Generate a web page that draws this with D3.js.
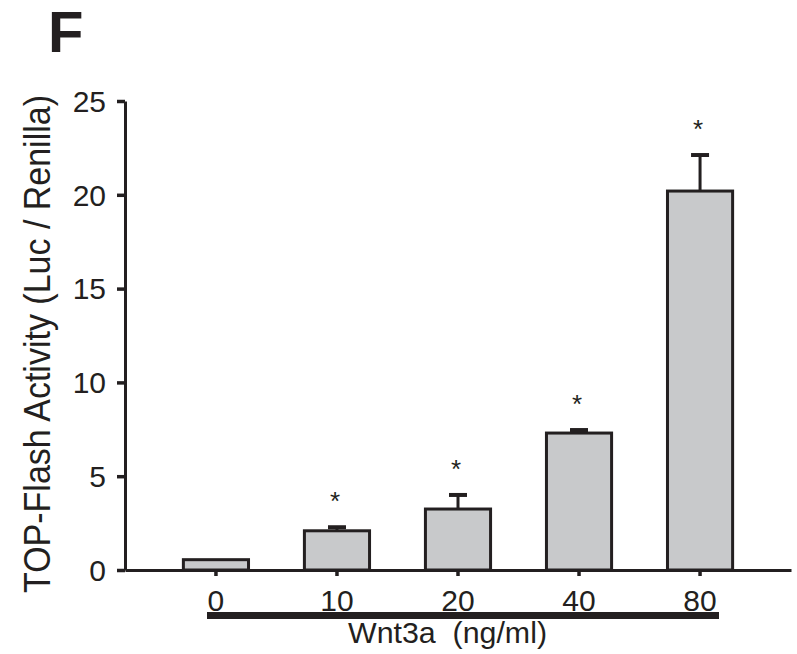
<!DOCTYPE html>
<html>
<head>
<meta charset="utf-8">
<script src="https://cdn.jsdelivr.net/npm/d3@7"></script>
<style>
  body { margin: 0; background: #fff; }
  svg { display: block; font-family: Arial, "Liberation Sans", sans-serif; }
</style>
</head>
<body>
<svg class="chart" width="797" height="654"></svg>
<script>
const doses = ['0', '10', '20', '40', '80'];
const means = [0.55, 2.09, 3.25, 7.30, 20.2];
const errors = [0, 0.19, 0.75, 0.16, 1.92];
const significant = [false, true, true, true, true];
const yTicks = [0, 5, 10, 15, 20, 25];

const ink = '#231f20';
const barFill = '#c8c9cb';

const startApp = () => {
  const svg = d3.select('.chart');

  const xScale = d3.scaleBand()
    .domain(doses)
    .range([125, 791])
    .paddingInner(0.437)
    .paddingOuter(0.47);
  const yScale = d3.scaleLinear().domain([0, 25]).range([570, 101]);

  const rows = doses.map((dose, i) => ({
    dose, mean: means[i], err: errors[i], star: significant[i],
  }));

  // bars
  svg.append('g').selectAll('rect')
    .data(rows)
    .enter()
    .append('rect')
    .attr('x', d => xScale(d.dose) + 1.5)
    .attr('width', xScale.bandwidth() - 3)
    .attr('y', d => yScale(d.mean))
    .attr('height', d => yScale(0) - yScale(d.mean))
    .attr('fill', barFill)
    .attr('stroke', ink)
    .attr('stroke-width', 3);

  // error bars (upper only)
  const errs = svg.append('g').selectAll('g')
    .data(rows.filter(d => d.err > 0))
    .enter()
    .append('g');
  const mid = d => xScale(d.dose) + xScale.bandwidth() / 2;
  errs.append('line')
    .attr('x1', mid).attr('x2', mid)
    .attr('y1', d => yScale(d.mean))
    .attr('y2', d => yScale(d.mean + d.err))
    .attr('stroke', ink)
    .attr('stroke-width', 3);
  errs.append('line')
    .attr('x1', d => mid(d) - 9).attr('x2', d => mid(d) + 9)
    .attr('y1', d => yScale(d.mean + d.err))
    .attr('y2', d => yScale(d.mean + d.err))
    .attr('stroke', ink)
    .attr('stroke-width', 4);

  // asterisks
  svg.append('g').selectAll('text')
    .data(rows.filter(d => d.star))
    .enter()
    .append('text')
    .attr('x', d => mid(d) - 2)
    .attr('y', d => yScale(d.mean + d.err) - 31 + 14)
    .attr('text-anchor', 'middle')
    .attr('font-size', 26)
    .attr('fill', ink)
    .text('*');

  // axes
  const xAxis = d3.axisBottom(xScale).tickSize(6).tickSizeOuter(0);
  const yAxis = d3.axisLeft(yScale).tickValues(yTicks).tickSize(8).tickSizeOuter(0);

  const gx = svg.append('g')
    .attr('transform', `translate(0, ${yScale(0)})`)
    .call(xAxis);
  gx.select('.domain').attr('stroke', ink).attr('stroke-width', 3);
  gx.selectAll('.tick line').attr('stroke', ink).attr('stroke-width', 3.5);
  gx.selectAll('.tick text')
    .attr('y', 41)
    .attr('dy', null)
    .attr('font-size', 30)
    .attr('font-family', null)
    .attr('fill', ink);

  const gy = svg.append('g')
    .attr('transform', 'translate(125, 0)')
    .call(yAxis);
  gy.select('.domain').attr('stroke', ink).attr('stroke-width', 3);
  gy.selectAll('.tick line').attr('stroke', ink).attr('stroke-width', 3.5);
  gy.selectAll('.tick text')
    .attr('x', -19)
    .attr('dy', '0.34em')
    .attr('font-size', 30)
    .attr('font-family', null)
    .attr('fill', ink);
  svg.selectAll('.tick, .domain').attr('font-family', null);
  gx.attr('font-family', null).attr('font-size', null);
  gy.attr('font-family', null).attr('font-size', null);

  // dose bar under the tick labels
  svg.append('line')
    .attr('x1', 207).attr('x2', 719)
    .attr('y1', 615.5).attr('y2', 615.5)
    .attr('stroke', ink)
    .attr('stroke-width', 7);

  svg.append('text')
    .attr('x', 447.5)
    .attr('y', 643)
    .attr('text-anchor', 'middle')
    .attr('font-size', 29)
    .attr('textLength', 199)
    .attr('lengthAdjust', 'spacingAndGlyphs')
    .attr('fill', ink)
    .attr('xml:space', 'preserve')
    .text('Wnt3a  (ng/ml)');

  svg.append('text')
    .attr('transform', 'translate(50, 344) rotate(-90)')
    .attr('text-anchor', 'middle')
    .attr('font-size', 37)
    .attr('textLength', 498)
    .attr('lengthAdjust', 'spacingAndGlyphs')
    .attr('fill', ink)
    .text('TOP-Flash Activity (Luc / Renilla)');

  svg.append('text')
    .attr('x', 48)
    .attr('y', 52)
    .attr('font-size', 58)
    .attr('font-weight', 'bold')
    .attr('fill', ink)
    .text('F');
};

window.onload = startApp;
</script>
</body>
</html>
